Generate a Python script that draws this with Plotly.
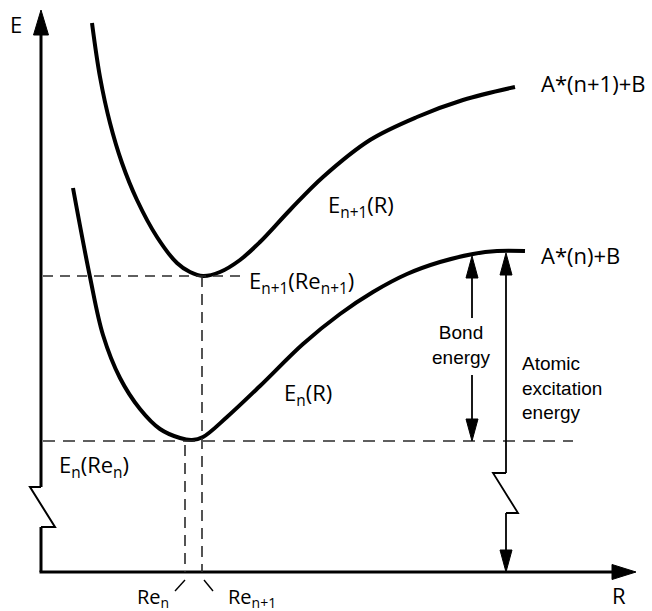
import plotly.graph_objects as go

# Potential energy curves E(R) of the two molecular states (arbitrary units)
R_upper = [51, 59, 69, 81, 96, 116, 136, 149, 162, 179, 199, 219, 249, 282, 329, 376, 422, 474]
E_upper = [549, 495, 449, 409, 372, 335, 309, 300, 296, 300, 312, 330, 362, 395, 432, 455, 472, 485]
R_lower = [32, 49, 62, 79, 99, 119, 139, 151, 162, 186, 219, 262, 299, 332, 366, 399, 432, 456, 484]
E_lower = [384, 295, 237, 194, 163, 143, 134, 132, 135, 155, 186, 228, 258, 280, 298, 310, 318, 321, 321]

# Characteristic points
Re_n, Re_n1 = 144, 161          # equilibrium distances
E_n_min, E_n1_min = 131, 296    # well bottoms
E_n_limit = 321                 # A*(n)+B dissociation limit
E_n1_limit = 485                # A*(n+1)+B dissociation limit
R_bond, R_atomic = 431, 465     # positions of the energy arrows

# Axis geometry
R_axis_end, E_axis_end = 595, 562
E_break = (85, 45)              # broken E axis (top, bottom of the jog)
atomic_break = (99, 59)

BLACK = "#000000"
DASH_COL = "#2a2a2a"
LABEL_FONT = "Open Sans"
ARROW_FONT = "Liberation Sans"

fig = go.Figure()

fig.add_trace(go.Scatter(x=R_upper, y=E_upper, mode="lines",
                         line=dict(color=BLACK, width=4, shape="spline", smoothing=1.0),
                         hoverinfo="skip", showlegend=False))
fig.add_trace(go.Scatter(x=R_lower, y=E_lower, mode="lines",
                         line=dict(color=BLACK, width=4, shape="spline", smoothing=1.0),
                         hoverinfo="skip", showlegend=False))

shapes = []


def seg(x0, y0, x1, y1, width=1.8, color=BLACK, dash="solid"):
    shapes.append(dict(type="line", xref="x", yref="y", x0=x0, y0=y0, x1=x1, y1=y1,
                       line=dict(color=color, width=width, dash=dash), layer="above"))


def polyline(pts, width=1.8):
    path = "M " + " L ".join(f"{x},{y}" for x, y in pts)
    shapes.append(dict(type="path", xref="x", yref="y", path=path,
                       line=dict(color=BLACK, width=width), layer="above"))


def head(tip_x, tip_y, direction, length=22, half=6):
    # filled triangular arrow head; direction in {"up", "down", "right"}
    if direction == "up":
        pts = [(tip_x, tip_y), (tip_x - half, tip_y - length), (tip_x + half, tip_y - length)]
    elif direction == "down":
        pts = [(tip_x, tip_y), (tip_x - half, tip_y + length), (tip_x + half, tip_y + length)]
    else:
        pts = [(tip_x, tip_y), (tip_x - length, tip_y + half), (tip_x - length, tip_y - half)]
    path = "M " + " L ".join(f"{x},{y}" for x, y in pts) + " Z"
    shapes.append(dict(type="path", xref="x", yref="y", path=path,
                       fillcolor=BLACK, line=dict(color=BLACK, width=1), layer="above"))


# E axis with a break
seg(0, E_axis_end - 20, 0, E_break[0], width=3)
polyline([(0, E_break[0]), (-11, E_break[0]), (14, E_break[1]), (0, E_break[1])], width=2)
seg(0, E_break[1], 0, 0, width=3)
head(0, E_axis_end, "up", length=25, half=7.5)

# R axis
seg(-1.5, 0, R_axis_end - 20, 0, width=3)
head(R_axis_end, 0, "right", length=24, half=7.5)

# Dashed guide lines
seg(2, E_n1_min, 204, E_n1_min, width=1.6, color=DASH_COL, dash="10px,7px")
seg(2, E_n_min, 532, E_n_min, width=1.6, color=DASH_COL, dash="12px,8px")
seg(Re_n, E_n_min - 4, Re_n, 0, width=1.6, color=DASH_COL, dash="11px,7px")
seg(Re_n1, E_n1_min, Re_n1, 0, width=1.6, color=DASH_COL, dash="11px,7px")

# Bond energy arrow (gap for its label)
seg(R_bond, E_n_limit - 25, R_bond, 254)
seg(R_bond, 197, R_bond, E_n_min + 20)
head(R_bond, E_n_limit - 5, "up")
head(R_bond, E_n_min, "down")

# Atomic excitation energy arrow, broken like the axis
seg(R_atomic, E_n_limit - 22, R_atomic, atomic_break[0])
polyline([(R_atomic, atomic_break[0]), (R_atomic - 13, atomic_break[0]),
          (R_atomic + 12, atomic_break[1]), (R_atomic, atomic_break[1])])
seg(R_atomic, atomic_break[1], R_atomic, 20)
head(R_atomic, E_n_limit - 2, "up")
head(R_atomic, 0, "down")

# Leader ticks to the equilibrium distance labels
seg(Re_n, -8, Re_n - 10, -19, width=1.4)
seg(Re_n1 + 2, -8, Re_n1 + 11, -19, width=1.4)

fig.update_layout(shapes=shapes)

annotations = []


def label(text, x, y, xanchor="left", size=22, family=LABEL_FONT, align="left"):
    annotations.append(dict(text=text, x=x, y=y, xref="x", yref="y", showarrow=False,
                            xanchor=xanchor, yanchor="middle", align=align,
                            font=dict(family=family, size=size, color=BLACK)))


label("E", -33, 548)
label("R", 578, -23, xanchor="center")
label("A*(n+1)+B", 498, E_n1_limit + 4)
label("A*(n)+B", 498, E_n_limit - 4)
label("E<sub>n+1</sub>(R)", 285, 366)
label("E<sub>n+1</sub>(Re<sub>n+1</sub>)", 206, 290)
label("E<sub>n</sub>(R)", 241, 178)
label("E<sub>n</sub>(Re<sub>n</sub>)", 16, 106)
label("Re<sub>n</sub>", 112, -25, xanchor="center", size=20)
label("Re<sub>n+1</sub>", 185, -25, size=20)
label("Bond<br>energy", 420, 227, xanchor="center", size=19, family=ARROW_FONT, align="center")
label("Atomic<br>excitation<br>energy", 479, 184, size=19, family=ARROW_FONT)

fig.update_layout(
    annotations=annotations,
    width=652, height=611,
    margin=dict(l=0, r=0, t=0, b=0),
    paper_bgcolor="white", plot_bgcolor="white",
    xaxis=dict(range=[-41, 611], visible=False, fixedrange=True),
    yaxis=dict(range=[-39, 572], visible=False, fixedrange=True),
    showlegend=False,
)

fig.write_html("out.html")
